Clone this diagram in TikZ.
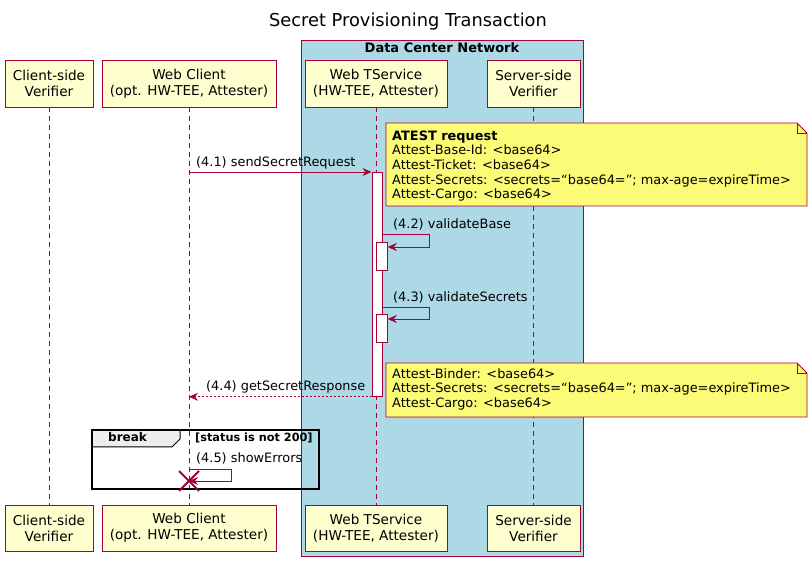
\documentclass[tikz,border=0pt]{standalone}
\usepackage{fontspec}
\setmainfont{DejaVu Sans}
\usetikzlibrary{arrows.meta,calc}
\definecolor{pborder}{HTML}{A80036}
\definecolor{pfill}{HTML}{FEFECE}
\definecolor{notefill}{HTML}{FBFB77}
\definecolor{boxfill}{HTML}{ADD8E6}
\definecolor{tabfill}{HTML}{EEEEEE}
\tikzset{
  part/.style={draw=pborder, fill=pfill, line width=0.9pt, align=center, inner sep=0pt, minimum height=47pt, font=\fontsize{13.6}{16}\selectfont},
  life/.style={draw=pborder, dash pattern=on 5pt off 4pt, line width=0.6pt},
  act/.style={draw=pborder, fill=white, line width=0.8pt, inner sep=0pt, minimum width=10pt},
  msg/.style={draw=pborder, line width=0.8pt, -{Stealth[length=9pt,width=8pt,inset=3pt]}},
  ret/.style={msg, dash pattern=on 2pt off 2pt},
  lbl/.style={font=\fontsize{12.9}{15}\selectfont, inner sep=0pt, anchor=base west},
  notetext/.style={font=\fontsize{12.9}{14.6}\selectfont, align=left, inner sep=0pt, anchor=north west},
  notebox/.style={draw=pborder, fill=notefill, line width=0.8pt},
}
\begin{document}
\begin{tikzpicture}[x=1pt,y=-1pt]
\useasboundingbox (0,0) rectangle (812,561);
% title
\node[font=\fontsize{17.8}{20}\selectfont] (title) at (408,22) {Secret Provisioning Transaction};
% data center box
\draw[draw=pborder, fill=boxfill, line width=0.8pt] (301,40) rectangle (583,556);
\node[font=\bfseries\fontsize{13}{15}\selectfont] (dcn) at (442,48) {Data Center Network};
% participants top
\node[part, minimum width=88pt] (cv) at (49,83.5) {Client-side\\Verifier};
\node[part, minimum width=174pt] (wc) at (189,83.5) {Web Client\\(opt. HW-TEE, Attester)};
\node[part, minimum width=142pt] (ts) at (376,83.5) {Web TService\\(HW-TEE, Attester)};
\node[part, minimum width=93pt] (sv) at (533.5,83.5) {Server-side\\Verifier};
% participants bottom
\node[part, minimum width=88pt, minimum height=46pt] (cvb) at (49,528) {Client-side\\Verifier};
\node[part, minimum width=174pt, minimum height=46pt] (wcb) at (189,528) {Web Client\\(opt. HW-TEE, Attester)};
\node[part, minimum width=142pt, minimum height=46pt] (tsb) at (376,528) {Web TService\\(HW-TEE, Attester)};
\node[part, minimum width=93pt, minimum height=46pt] (svb) at (533.5,528) {Server-side\\Verifier};
% lifelines
\draw[life] (cv.south) -- (cvb.north);
\draw[life] (wc.south) -- (wcb.north);
\draw[life] (ts.south) -- (tsb.north);
\draw[life] (sv.south) -- (svb.north);
% activations
\node[act, minimum height=224pt, anchor=north west] (a1) at (371.5,172) {};
\node[act, minimum height=28pt, minimum width=11pt, anchor=north west] (a2) at (376,242) {};
\node[act, minimum height=28pt, minimum width=11pt, anchor=north west] (a3) at (376,314) {};
% note 1
\coordinate (n1nw) at (386,123);
\coordinate (n1se) at (807,206);
\draw[notebox] (n1nw) -- ($(n1nw -| n1se)+(-10,0)$) -- ($(n1nw -| n1se)+(0,10)$) -- (n1se) -- (n1se -| n1nw) -- cycle;
\draw[pborder, line width=0.8pt] ($(n1nw -| n1se)+(-10,0)$) -- ($(n1nw -| n1se)+(-10,10)$) -- ($(n1nw -| n1se)+(0,10)$);
\node[notetext] (n1) at (392,130.5) {\textbf{ATEST request}\\Attest-Base-Id: <base64>\\Attest-Ticket: <base64>\\Attest-Secrets: <secrets=“base64=”; max-age=expireTime>\\Attest-Cargo: <base64>};
% note 2
\coordinate (n2nw) at (386,363);
\coordinate (n2se) at (807,417);
\draw[notebox] (n2nw) -- ($(n2nw -| n2se)+(-10,0)$) -- ($(n2nw -| n2se)+(0,10)$) -- (n2se) -- (n2se -| n2nw) -- cycle;
\draw[pborder, line width=0.8pt] ($(n2nw -| n2se)+(-10,0)$) -- ($(n2nw -| n2se)+(-10,10)$) -- ($(n2nw -| n2se)+(0,10)$);
\node[notetext] (n2) at (392,368) {Attest-Binder: <base64>\\Attest-Secrets: <secrets=“base64=”; max-age=expireTime>\\Attest-Cargo: <base64>};
% message 4.1
\coordinate (m1s) at (wc.south |- 0,172);
\draw[msg] (m1s) -- (a1.north west);
\node[lbl] (l1) at (196,167) {(4.1) sendSecretRequest};
% message 4.2
\coordinate (m2a) at (381.5,234);
\coordinate (m2b) at (429,234);
\coordinate (m2c) at (429,247);
\coordinate (m2d) at ($(a2.north east)+(0,5)$);
\draw[msg] (m2a) -- (m2b) -- (m2c) -- (m2d);
\node[lbl] (l2) at (393,229) {(4.2) validateBase};
% message 4.3
\coordinate (m3a) at (381.5,307);
\coordinate (m3b) at (429,307);
\coordinate (m3c) at (429,319);
\coordinate (m3d) at ($(a3.north east)+(0,5)$);
\draw[msg] (m3a) -- (m3b) -- (m3c) -- (m3d);
\node[lbl] (l3) at (393,302) {(4.3) validateSecrets};
% message 4.4
\coordinate (m4e) at (wc.south |- a1.south);
\draw[ret] (a1.south west) -- (m4e);
\node[lbl] (l4) at (206,390.5) {(4.4) getSecretResponse};
% break group
\draw[black, fill=tabfill, line width=1pt] (92,430) -- (180,430) -- (180,439) -- (172,447) -- (92,447) -- cycle;
\draw[black, line width=1.8pt] (92,430) rectangle (319,489);
\node[font=\bfseries\fontsize{12}{14}\selectfont, inner sep=0pt, anchor=base west] (brk) at (108,442) {break};
\node[font=\bfseries\fontsize{11.3}{13}\selectfont, inner sep=0pt, anchor=base west] (cond) at (195,442) {[status is not 200]};
% message 4.5
\coordinate (m5a) at (wc.south |- 0,469);
\coordinate (m5b) at (231,469);
\coordinate (m5c) at (231,481);
\coordinate (m5d) at (wc.south |- 0,481);
\draw[msg] (m5a) -- (m5b) -- (m5c) -- (m5d);
\node[lbl] (l5) at (196,463) {(4.5) showErrors};
\draw[pborder, line width=1.8pt] ($(m5d)+(-10,-10)$) -- ($(m5d)+(10,10)$) ($(m5d)+(-10,10)$) -- ($(m5d)+(10,-10)$);
\end{tikzpicture}
\end{document}
